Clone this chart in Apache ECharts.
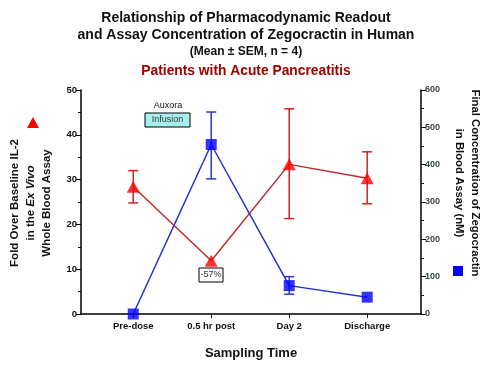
<!DOCTYPE html>
<html>
<head>
<meta charset="utf-8">
<script src="https://cdn.jsdelivr.net/npm/echarts@6/dist/echarts.min.js"></script>
<style>html,body{margin:0;padding:0;background:#fff}#c{width:492px;height:371px}</style>
</head>
<body>
<div id="c"></div>
<script>
var categories = ['Pre-dose', '0.5 hr post', 'Day 2', 'Discharge'];
var il2Mean = [28.4, 11.9, 33.4, 30.3];
var il2Low  = [24.8, 11.9, 21.3, 24.6];
var il2High = [32.0, 11.9, 45.8, 36.2];
var concMean = [0, 454, 76, 45];
var concLow  = [0, 362, 53, 45];
var concHigh = [0, 541, 100, 45];
var leftTicks = [0, 10, 20, 30, 40, 50];
var rightTicks = [0, 100, 200, 300, 400, 500, 600];

var FONT = '"Liberation Sans", Arial, sans-serif';
var RED = '#ff0000', RED_LINE = '#c02a2a';
var BLUE = '#0000ff', BLUE_LINE = '#2233cc';

function pts(vals) { return vals.map(function (v, i) { return [i, v]; }); }
function bars(low, high) {
  return low.map(function (l, i) { return [i, l, high[i]]; }).filter(function (d) { return d[2] > d[1]; });
}
function errRender(color) {
  return function (params, api) {
    var x = api.value(0);
    var lo = api.coord([x, api.value(1)]);
    var hi = api.coord([x, api.value(2)]);
    var w = 5;
    var st = { stroke: color, lineWidth: 1.5 };
    return { type: 'group', children: [
      { type: 'line', shape: { x1: lo[0], y1: lo[1], x2: hi[0], y2: hi[1] }, style: st },
      { type: 'line', shape: { x1: lo[0] - w, y1: lo[1], x2: lo[0] + w, y2: lo[1] }, style: st },
      { type: 'line', shape: { x1: hi[0] - w, y1: hi[1], x2: hi[0] + w, y2: hi[1] }, style: st }
    ]};
  };
}

var chart = echarts.init(document.getElementById('c'), null, { renderer: 'canvas' });
var axisCommon = {
  axisLine: { show: true, onZero: false, lineStyle: { color: '#000', width: 1.5 } },
  axisTick: { show: true, inside: false, length: 5, lineStyle: { color: '#000', width: 1 } },
  minorTick: { show: true, splitNumber: 2, length: 3, lineStyle: { color: '#000', width: 1 } },
  splitLine: { show: false }
};
var titleStyle = { fontFamily: FONT, fontWeight: 'bold', color: '#111' };
chart.setOption({
  animation: false,
  backgroundColor: '#fff',
  title: [
    { text: 'Relationship of Pharmacodynamic Readout', left: 'center', top: 6, textStyle: Object.assign({ fontSize: 14 }, titleStyle) },
    { text: 'and Assay Concentration of Zegocractin in Human', left: 'center', top: 23, textStyle: Object.assign({ fontSize: 14 }, titleStyle) },
    { text: '(Mean \u00b1 SEM, n = 4)', left: 'center', top: 41, textStyle: Object.assign({ fontSize: 12 }, titleStyle) },
    { text: 'Patients with Acute Pancreatitis', left: 'center', top: 59, textStyle: { fontFamily: FONT, fontSize: 13.8, fontWeight: 'bold', color: '#a00000' } }
  ],
  grid: { left: 81, right: 71, top: 90, bottom: 57, containLabel: false },
  xAxis: {
    type: 'value', min: -0.67, max: 3.69,
    axisLine: { show: true, onZero: false, lineStyle: { color: '#000', width: 1.5 } },
    axisTick: { show: true, length: 4, customValues: [0, 1, 2, 3], lineStyle: { color: '#000' } },
    axisLabel: { customValues: [0, 1, 2, 3], formatter: function (v) { return categories[Math.round(v)]; }, fontFamily: FONT, fontSize: 9.5, fontWeight: 'bold', color: '#111', margin: 7 },
    splitLine: { show: false },
    name: 'Sampling Time', nameLocation: 'middle', nameGap: 33,
    nameTextStyle: { fontFamily: FONT, fontSize: 13, fontWeight: 'bold', color: '#111' }
  },
  yAxis: [
    Object.assign({}, axisCommon, {
      type: 'value', min: 0, max: 50, interval: 10, position: 'left',
      axisLabel: { fontFamily: FONT, fontSize: 9.5, fontWeight: 'bold', color: '#111', margin: 4,
        formatter: function (v) { return leftTicks.indexOf(v) >= 0 ? String(v) : ''; } }
    }),
    Object.assign({}, axisCommon, {
      type: 'value', min: 0, max: 600, interval: 100, position: 'right',
      axisLabel: { fontFamily: FONT, fontSize: 9, fontWeight: 'bold', color: '#3a4848', margin: 4,
        formatter: function (v) { return rightTicks.indexOf(v) >= 0 ? String(v) : ''; } }
    })
  ],
  series: [
    { type: 'line', name: 'Fold Over Baseline IL-2', yAxisIndex: 0, data: pts(il2Mean), symbol: 'none', lineStyle: { color: RED_LINE, width: 1.5 }, z: 2 },
    { type: 'line', name: 'Final Concentration', yAxisIndex: 1, data: pts(concMean), symbol: 'none', lineStyle: { color: BLUE_LINE, width: 1.5 }, z: 2 },
    { type: 'custom', yAxisIndex: 0, data: bars(il2Low, il2High), renderItem: errRender('#d42020'), z: 3 },
    { type: 'custom', yAxisIndex: 1, data: bars(concLow, concHigh), renderItem: errRender('#2a3acc'), z: 3 },
    { type: 'scatter', yAxisIndex: 0, data: pts(il2Mean), symbol: 'triangle', symbolSize: [13, 12], itemStyle: { color: RED }, z: 4 },
    { type: 'scatter', yAxisIndex: 1, data: pts(concMean), symbol: 'rect', symbolSize: 11, itemStyle: { color: BLUE }, z: 4 }
  ],
  graphic: [
    { type: 'text', x: 31, y: 203, rotation: Math.PI / 2,
      style: { text: 'Fold Over Baseline IL-2\n{n|in the }{i|Ex Vivo}\nWhole Blood Assay', align: 'center', verticalAlign: 'middle',
        font: 'bold 11.5px ' + FONT, fill: '#111', lineHeight: 16,
        rich: { n: { font: 'bold 11.5px ' + FONT, fill: '#111' }, i: { font: 'italic bold 11.5px ' + FONT, fill: '#111' } } } },
    { type: 'polygon', shape: { points: [[33, 117], [39, 128], [27, 128]] }, style: { fill: RED } },
    { type: 'text', x: 467, y: 183, rotation: -Math.PI / 2,
      style: { text: 'Final Concentration of Zegocractin\nin Blood Assay (nM)', align: 'center', verticalAlign: 'middle',
        font: 'bold 11.3px ' + FONT, fill: '#111', lineHeight: 16 } },
    { type: 'rect', shape: { x: 453, y: 266, width: 10, height: 10 }, style: { fill: BLUE } },
    { type: 'text', x: 168, y: 106, style: { text: 'Auxora', align: 'center', verticalAlign: 'middle', font: '9px ' + FONT, fill: '#111' } },
    { type: 'rect', shape: { x: 145, y: 113, width: 45, height: 14 }, style: { fill: '#a8f0ee', stroke: '#000', lineWidth: 1 } },
    { type: 'text', x: 167.5, y: 120, style: { text: 'Infusion', align: 'center', verticalAlign: 'middle', font: '9px ' + FONT, fill: '#333' } },
    { type: 'rect', shape: { x: 199, y: 268, width: 24, height: 14 }, style: { fill: '#fff', stroke: '#000', lineWidth: 1 } },
    { type: 'text', x: 211, y: 275, style: { text: '-57%', align: 'center', verticalAlign: 'middle', font: '9px ' + FONT, fill: '#333' } }
  ]
});
</script>
</body>
</html>
